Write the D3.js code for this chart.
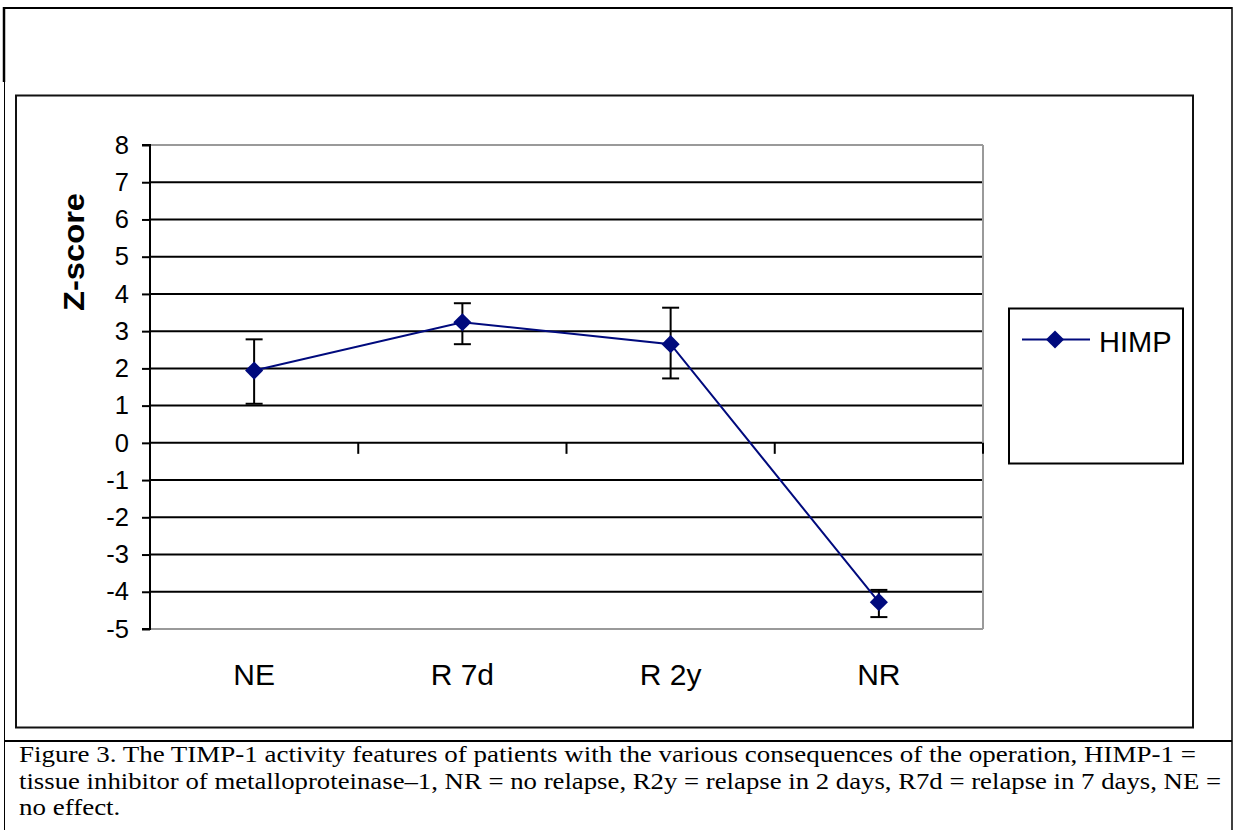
<!DOCTYPE html>
<html>
<head>
<meta charset="utf-8">
<script src="https://cdn.jsdelivr.net/npm/d3@7"></script>
<style>
  html, body { margin: 0; padding: 0; background: #fff; }
  svg { display: block; }
</style>
</head>
<body>
<svg id="chart" width="1237" height="830"></svg>
<script>
// ---- data ----
const categories = ["NE", "R 7d", "R 2y", "NR"];
const values     = [1.94, 3.24, 2.65, -4.28];
const errUpper   = [2.78, 3.75, 3.63, -3.95];
const errLower   = [1.05, 2.65, 1.73, -4.68];
const yTicks     = [-5, -4, -3, -2, -1, 0, 1, 2, 3, 4, 5, 6, 7, 8];
const seriesName = "HIMP";
const yLabel     = "Z-score";
const captionLines = [
  "Figure 3. The TIMP-1 activity features of patients with the various consequences of the operation, HIMP-1 =",
  "tissue inhibitor of metalloproteinase\u20131, NR = no relapse, R2y = relapse in 2 days, R7d = relapse in 7 days, NE =",
  "no effect."
];

const svg = d3.select("#chart");
const navy = "#000a7d";
const sans = "Liberation Sans, Arial, sans-serif";

// outer frame
svg.append("line").attr("x1", 4).attr("x2", 1232).attr("y1", 8).attr("y2", 8).attr("stroke", "#000").attr("stroke-width", 2);
svg.append("line").attr("x1", 4).attr("x2", 4).attr("y1", 7).attr("y2", 82).attr("stroke", "#000").attr("stroke-width", 2.5);
svg.append("line").attr("x1", 4.5).attr("x2", 4.5).attr("y1", 82).attr("y2", 830).attr("stroke", "#000").attr("stroke-width", 1);
svg.append("line").attr("x1", 1232).attr("x2", 1232).attr("y1", 7).attr("y2", 830).attr("stroke", "#000").attr("stroke-width", 1.5);
// caption box top
svg.append("line").attr("x1", 4).attr("x2", 1232).attr("y1", 741).attr("y2", 741).attr("stroke", "#000").attr("stroke-width", 2);

// chart box
svg.append("rect").attr("x", 16).attr("y", 95.5).attr("width", 1177).attr("height", 632)
  .attr("fill", "none").attr("stroke", "#111").attr("stroke-width", 2);

// scales
const x = d3.scaleBand().domain(categories).range([150, 983]);
const y = d3.scaleLinear().domain([-5, 8]).range([629, 145]);

// gridlines
const g = svg.append("g");
g.selectAll("line.grid").data(yTicks.filter(v => v > -5 && v < 8)).join("line")
  .attr("class", "grid")
  .attr("x1", 150).attr("x2", 983)
  .attr("y1", d => y(d)).attr("y2", d => y(d))
  .attr("stroke", "#000").attr("stroke-width", 2);

// plot area border (top, right, bottom) gray
g.append("line").attr("x1", 150).attr("x2", 983).attr("y1", y(8)).attr("y2", y(8)).attr("stroke", "#9a9a9a").attr("stroke-width", 2);
g.append("line").attr("x1", 150).attr("x2", 983).attr("y1", y(-5)).attr("y2", y(-5)).attr("stroke", "#9a9a9a").attr("stroke-width", 2);
g.append("line").attr("x1", 983).attr("x2", 983).attr("y1", y(8)).attr("y2", y(-5)).attr("stroke", "#9a9a9a").attr("stroke-width", 2);

// y axis
const yAxis = d3.axisLeft(y).tickValues(yTicks).tickSize(8).tickPadding(13).tickFormat(d => String(d));
const ya = svg.append("g").attr("transform", "translate(150,0)").call(yAxis);
ya.attr("font-family", sans).attr("font-size", 25.5);
ya.select(".domain").attr("stroke", "#000").attr("stroke-width", 2).attr("d", `M-8,${y(8)}H0V${y(-5)}H-8`);
ya.selectAll(".tick line").attr("stroke", "#000").attr("stroke-width", 2);
ya.selectAll(".tick text").attr("fill", "#000");

// x axis ticks at y=0 between categories
const boundaries = categories.map(c => x(c) + x.bandwidth());
svg.append("g").selectAll("line").data(boundaries).join("line")
  .attr("x1", d => d).attr("x2", d => d)
  .attr("y1", y(0)).attr("y2", y(0) + 11)
  .attr("stroke", "#000").attr("stroke-width", 2);

// x labels
svg.append("g").selectAll("text").data(categories).join("text")
  .attr("x", d => x(d) + x.bandwidth() / 2)
  .attr("y", 685)
  .attr("text-anchor", "middle")
  .attr("font-family", sans)
  .attr("font-size", 30)
  .text(d => d);

// y label
svg.append("text")
  .attr("transform", `translate(84,252) rotate(-90)`)
  .attr("text-anchor", "middle")
  .attr("font-family", sans)
  .attr("font-size", 29).attr("font-weight", "bold")
  .attr("textLength", 118).attr("lengthAdjust", "spacingAndGlyphs")
  .text(yLabel);

const pts = categories.map((c, i) => ({ c, v: values[i], hi: errUpper[i], lo: errLower[i] }));
const cx = d => x(d.c) + x.bandwidth() / 2;

// line
svg.append("path").datum(pts)
  .attr("d", d3.line().x(cx).y(d => y(d.v)))
  .attr("fill", "none").attr("stroke", navy).attr("stroke-width", 2);

// error bars
const eb = svg.append("g").attr("stroke", "#000").attr("stroke-width", 2);
eb.selectAll("line.v").data(pts).join("line").attr("class", "v")
  .attr("x1", cx).attr("x2", cx).attr("y1", d => y(d.hi)).attr("y2", d => y(d.lo));
eb.selectAll("line.t").data(pts).join("line").attr("class", "t")
  .attr("x1", d => cx(d) - 8.5).attr("x2", d => cx(d) + 8.5).attr("y1", d => y(d.hi)).attr("y2", d => y(d.hi));
eb.selectAll("line.b").data(pts).join("line").attr("class", "b")
  .attr("x1", d => cx(d) - 8.5).attr("x2", d => cx(d) + 8.5).attr("y1", d => y(d.lo)).attr("y2", d => y(d.lo));

// markers
const diamond = d3.symbol().type(d3.symbolDiamond2).size(210);
svg.append("g").selectAll("path").data(pts).join("path")
  .attr("transform", d => `translate(${cx(d)},${y(d.v)})`)
  .attr("d", diamond).attr("fill", navy);

// legend
const lg = svg.append("g");
lg.append("rect").attr("x", 1009).attr("y", 308.5).attr("width", 174).attr("height", 155)
  .attr("fill", "#fff").attr("stroke", "#000").attr("stroke-width", 2);
lg.append("line").attr("x1", 1022).attr("x2", 1090).attr("y1", 339.5).attr("y2", 339.5).attr("stroke", navy).attr("stroke-width", 2);
lg.append("path").attr("transform", "translate(1055,339.5)").attr("d", diamond).attr("fill", navy);
lg.append("text").attr("x", 1099).attr("y", 352)
  .attr("font-family", sans).attr("font-size", 29).text(seriesName);

// caption (horizontally stretched like the reference)
const capEnds = [1196, 1221, null];
const cap = svg.append("g").attr("font-family", "Liberation Serif, Times New Roman, serif").attr("font-size", 22.5);
const capText = cap.selectAll("text").data(captionLines).join("text")
  .attr("x", 19).attr("y", (d, i) => 762 + i * 26.5)
  .text(d => d);
const natural = capText.nodes()[0].getComputedTextLength();
const factor = (capEnds[0] - 19) / natural;
capText.each(function (d, i) {
  const len = capEnds[i] ? capEnds[i] - 19 : this.getComputedTextLength() * factor;
  d3.select(this).attr("textLength", len).attr("lengthAdjust", "spacingAndGlyphs");
});
</script>
</body>
</html>
